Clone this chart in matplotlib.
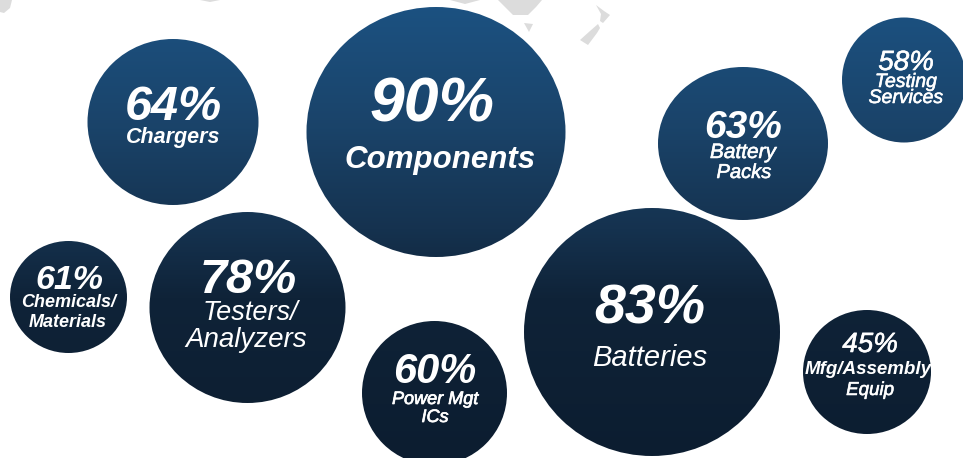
import numpy as np
from matplotlib import pyplot as plt
from matplotlib import patheffects
from matplotlib.colors import LinearSegmentedColormap
from matplotlib.patches import Ellipse, Polygon

WIDTH = 963
HEIGHT = 458

# bubbles, in pixel coordinates
percents = ["64%", "90%", "63%", "58%", "61%", "78%", "60%", "83%", "45%"]
center_x = [173, 436, 743, 904, 68.5, 247.5, 434.5, 652, 867]
center_y = [122, 132, 143.5, 80, 297, 307.5, 393, 332, 372]
radius_x = [85.5, 129.5, 85, 62, 58.5, 98, 72.5, 128, 64]
radius_y = [83, 125, 76.5, 62.5, 56, 95.5, 72, 124, 62]

percent_x = [173, 432, 743, 906, 69, 248, 435, 650, 870]
percent_base = [120, 122, 138, 70, 289, 293, 383, 324, 352]
percent_size = [35, 45, 28, 20, 24.5, 35, 30, 40, 20]
percent_weight = ["bold", "bold", "bold", "normal", "bold", "bold", "bold", "bold", "normal"]
percent_stroke = [0, 0, 0, 0.4, 0, 0, 0, 0, 0.4]

labels = ["Chargers", "Components", "Battery", "Packs", "Testing", "Services",
          "Chemicals/", "Materials", "Testers/", "Analyzers", "Power Mgt", "ICs",
          "Batteries", "Mfg/Assembly", "Equip"]
label_x = [173, 440, 743, 744, 906, 906, 69, 68, 250, 246, 435, 435, 650, 868, 870]
label_base = [143, 168, 158, 178, 87, 103, 307, 327, 320, 347, 404, 422, 366, 374, 395]
label_size = [15.5, 22.5, 15, 14.5, 14, 14, 13, 13, 19.5, 20, 13, 13, 21, 13.5, 13.5]
label_weight = ["bold", "bold", "normal", "normal", "normal", "normal", "bold", "bold",
                "normal", "normal", "normal", "normal", "normal", "bold", "normal"]
label_stroke = [0, 0, 0.4, 0.4, 0.4, 0.4, 0, 0, 0, 0, 0.5, 0.5, 0, 0, 0.4]

# scraps of the world map behind the bubbles
map_shapes = [
    [(0, 0), (12, 0), (10, 8), (4, 13), (0, 12)],
    [(200, 0), (220, 0), (210, 2)],
    [(450, 0), (480, 0), (465, 4)],
    [(498, 0), (542, 0), (536, 7), (528, 15), (513, 15), (505, 7)],
    [(524, 23), (533, 24), (529, 32)],
    [(596, 5), (604, 11), (610, 15), (603, 23), (600, 21), (601, 14)],
    [(598, 24), (600, 28), (597, 33), (588, 45), (580, 40), (590, 31)],
]
map_color = "#dcdcdc"

gradient_y = [0.0, 0.28, 0.5, 0.65, 1.0]
gradient_colors = ["#1c5282", "#1a4369", "#15324f", "#0f2338", "#0c1d30"]

plt.rcParams["font.family"] = ["Liberation Sans", "DejaVu Sans"]

fig = plt.figure(figsize=(WIDTH / 100, HEIGHT / 100), dpi=100)
ax = fig.add_axes([0, 0, 1, 1])
ax.set_xlim(0, WIDTH)
ax.set_ylim(HEIGHT, 0)
ax.axis("off")

for shape in map_shapes:
    ax.add_patch(Polygon(shape, closed=True, facecolor=map_color, edgecolor="none", zorder=1))

# one vertical gradient runs through all the bubbles
cmap = LinearSegmentedColormap.from_list("bubble", list(zip(gradient_y, gradient_colors)))
ramp = np.linspace(0, 1, 256).reshape(-1, 1)
for cx, cy, rx, ry in zip(center_x, center_y, radius_x, radius_y):
    bubble = Ellipse((cx, cy), 2 * rx, 2 * ry, facecolor="none", edgecolor="none")
    ax.add_patch(bubble)
    im = ax.imshow(ramp, cmap=cmap, extent=(0, WIDTH, HEIGHT, 0), aspect="auto", zorder=2)
    im.set_clip_path(bubble)


def put_text(text, x, y, size, weight, stroke):
    t = ax.text(x, y, text, color="white", fontsize=size, fontweight=weight, style="italic",
                ha="center", va="baseline", zorder=3)
    if stroke:
        t.set_path_effects([patheffects.withStroke(linewidth=stroke, foreground="white")])


for row in zip(percents, percent_x, percent_base, percent_size, percent_weight, percent_stroke):
    put_text(*row)

for row in zip(labels, label_x, label_base, label_size, label_weight, label_stroke):
    put_text(*row)

ax.set_xlim(0, WIDTH)
ax.set_ylim(HEIGHT, 0)
fig.savefig("out.png", dpi=100, facecolor="white")
